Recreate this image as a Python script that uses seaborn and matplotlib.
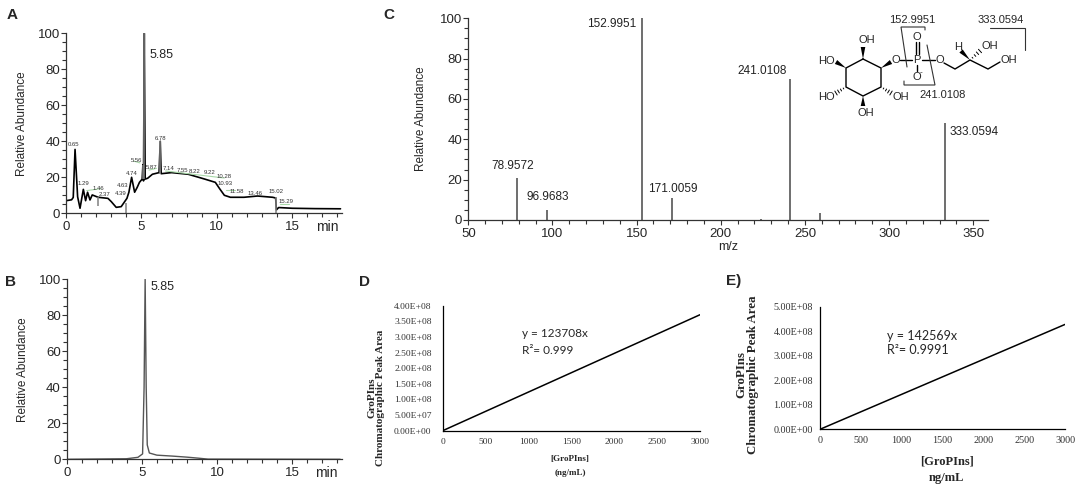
import numpy as np
import matplotlib
matplotlib.use("Agg")
import matplotlib.pyplot as plt
import seaborn as sns
from matplotlib.ticker import MultipleLocator, FuncFormatter

# ---- panel A: total ion chromatogram (time in min, relative abundance) ----
tic_time = [0.0, 0.37, 0.48, 0.6, 0.77, 0.93, 1.15, 1.3, 1.43, 1.59, 1.74, 2.13,
            2.78, 3.0, 3.33, 3.66, 4.04, 4.17, 4.35, 4.55, 4.72, 4.87, 5.05, 5.1,
            5.14, 5.19, 5.25, 5.42, 5.73, 6.17, 6.25, 6.31, 7.0, 8.1, 9.2, 9.9,
            10.2, 10.5, 10.9, 11.8, 12.7, 13.7, 13.9, 13.95, 14.1, 15.0, 16.5, 18.2]
tic_abund = [7, 7.5, 8.8, 35.5, 9.2, 2.8, 13.3, 7, 11.7, 7.4, 10.2, 8.9,
             8.3, 6.5, 3.3, 3.7, 8.3, 11.7, 20, 11.7, 14.4, 17.2, 19, 27,
             18, 100, 19, 19.5, 21.7, 22.6, 40, 22, 22.6, 21.7, 19, 17.2,
             13.5, 10, 8.9, 8.9, 9.6, 8.9, 8.5, 1.9, 3.2, 2.8, 2.6, 2.5]
rt_labels = ["0.65", "1.29", "1.46", "2.37", "4.39", "4.63", "4.74", "5.56", "5.87",
             "6.78", "7.14", "7.55", "8.22", "9.22", "10.28", "10.93", "11.58",
             "13.46", "15.02", "15.29"]
rt_label_t = [0.53, 1.15, 2.14, 2.58, 3.62, 3.73, 4.35, 4.68, 5.67, 6.29, 6.82,
              7.73, 8.54, 9.49, 10.48, 10.58, 11.35, 12.52, 13.9, 14.57]
rt_label_y = [38.3, 16.5, 13.7, 10.4, 10.9, 15.2, 22, 29.4, 25.7, 41.3, 24.8,
              23.9, 23.3, 22.6, 20.7, 16.8, 11.9, 10.9, 11.9, 6.3]
# gray peak marks and green integration baselines
mark_t = [5.1, 5.19, 6.25, 2.13, 3.95, 13.93]
mark_lo = [19, 19, 22, 4, 0, 0]
mark_hi = [27, 100, 40, 9, 6, 9]
base_t0 = [1.37, 4.5, 5.5, 6.6, 10.6, 14.2]
base_t1 = [2.3, 4.9, 6.0, 10.5, 11.2, 14.8]
base_y0 = [12.6, 29, 24, 23.5, 13, 5]
base_y1 = [13.7, 28, 25, 19.6, 13, 5]

# ---- panel B: extracted ion chromatogram ----
eic_time = [0.0, 3.97, 4.74, 5.05, 5.15, 5.22, 5.29, 5.36, 5.5, 6.0, 7.0, 8.0,
            8.8, 9.4, 18.2]
eic_abund = [0, 0.3, 1.1, 3, 40, 100, 40, 8, 3.5, 2.3, 1.8, 1.2, 0.6, 0.1, 0]

# ---- panel C: MS/MS spectrum ----
ms_mz = [78.9572, 96.9683, 152.9951, 171.0059, 224.0, 241.0108, 259.0, 333.0594]
ms_int = [21, 5, 100, 11, 0.6, 70, 3.5, 48]
ms_labels = ["78.9572", "96.9683", "152.9951", "171.0059", "241.0108", "333.0594"]
ms_label_x = [76.5, 97.4, 150.0, 171.6, 224.8, 335.7]
ms_label_y = [27, 11.3, 97, 15.4, 74, 43.5]
ms_label_ha = ["center", "center", "right", "center", "center", "left"]

# ---- panels D and E: calibration lines ----
d_conc = [0, 3000]
d_area = [0, 3.711e8]
e_conc = [0, 3000]
e_area = [0, 4.277e8]

sns.set_theme(style="ticks")
plt.rcParams["font.family"] = ["Liberation Sans", "DejaVu Sans"]

W, H = 1084, 488
fig = plt.figure(figsize=(W / 100, H / 100), dpi=100)


def rect(l, t, r, b):
    return [l / W, 1 - b / H, (r - l) / W, (b - t) / H]


def style_spec(ax):
    for s in ["left", "bottom"]:
        ax.spines[s].set_color("#333333")
        ax.spines[s].set_linewidth(0.9)
    sns.despine(ax=ax)
    ax.tick_params(which="major", length=3.8, width=0.8, color="#333333",
                   labelsize=9.5, pad=2)
    ax.tick_params(axis="y", which="major", pad=0.5)
    ax.tick_params(which="minor", length=2.8, width=0.8, color="#333333")
    ax.yaxis.set_major_locator(MultipleLocator(20))
    ax.yaxis.set_minor_locator(MultipleLocator(5))
    ax.set_ylim(0, 100)


def style_chrom(ax):
    style_spec(ax)
    ax.set_xlim(0, 18.3)
    ax.xaxis.set_major_locator(MultipleLocator(5))
    ax.xaxis.set_minor_locator(MultipleLocator(1))
    ax.set_xlabel("")
    ax.set_ylabel("Relative Abundance", fontsize=8.5)
    ax.yaxis.set_label_coords(-0.138, 0.5)
    ax.text(17.3, -0.075, "min", transform=ax.get_xaxis_transform(),
            ha="center", va="center", fontsize=10)


# A
axA = fig.add_axes(rect(66, 33.3, 342, 213.3))
sns.lineplot(x=tic_time, y=tic_abund, ax=axA, color="black", lw=1.2,
             estimator=None, sort=False)
axA.vlines(mark_t, mark_lo, mark_hi, color="#808080", lw=1.1)
for t0, t1, y0, y1 in zip(base_t0, base_t1, base_y0, base_y1):
    axA.plot([t0, t1], [y0, y1], color="#a8d8a8", lw=0.8)
for s, t, y in zip(rt_labels, rt_label_t, rt_label_y):
    axA.text(t, y, s, fontsize=4.3, ha="center", va="center", color="#333333")
axA.text(6.3, 87.8, "5.85", fontsize=9, ha="center", va="center")
style_chrom(axA)

# B
axB = fig.add_axes(rect(66.7, 279.3, 341.7, 459.3))
sns.lineplot(x=eic_time, y=eic_abund, ax=axB, color="#555555", lw=1.0,
             estimator=None, sort=False)
axB.text(6.4, 95.9, "5.85", fontsize=9, ha="center", va="center")
style_chrom(axB)

# C
axC = fig.add_axes(rect(468.3, 18.3, 988, 220))
axC.vlines(ms_mz, 0, ms_int, color="#555555", lw=1.2, clip_on=False)
for s, x, y, ha in zip(ms_labels, ms_label_x, ms_label_y, ms_label_ha):
    axC.text(x, y, s, fontsize=8.5, ha=ha, va="center", color="#222222")
style_spec(axC)
axC.set_xlim(50, 358.8)
axC.xaxis.set_major_locator(MultipleLocator(50))
axC.xaxis.set_minor_locator(MultipleLocator(10))
axC.set_xlabel("m/z", fontsize=9, labelpad=1)
axC.set_ylabel("Relative Abundance", fontsize=8.5)
axC.yaxis.set_label_coords(-0.08, 0.5)


def sci(v, pos):
    return "{:.2E}".format(v)


def style_cal(ax, ymax, ystep, fs, ypad):
    sns.despine(ax=ax)
    for s in ["left", "bottom"]:
        ax.spines[s].set_color("black")
        ax.spines[s].set_linewidth(0.9)
    ax.set_xlim(0, 3000)
    ax.set_ylim(0, ymax)
    ax.xaxis.set_major_locator(MultipleLocator(500))
    ax.yaxis.set_major_locator(MultipleLocator(ystep))
    ax.yaxis.set_major_formatter(FuncFormatter(sci))
    ax.tick_params(length=0, labelsize=fs, labelcolor="#333333")
    ax.tick_params(axis="x", pad=5)
    ax.tick_params(axis="y", pad=ypad)
    for lab in ax.get_xticklabels() + ax.get_yticklabels():
        lab.set_family("Liberation Serif")
    ax.set_xlabel("")
    ax.set_ylabel("")


# D
axD = fig.add_axes(rect(442.7, 305.7, 700, 430.7))
sns.lineplot(x=d_conc, y=d_area, ax=axD, color="black", lw=1.1)
style_cal(axD, 4e8, 5e7, 6.8, 8)
axD.text(0.31, 0.78, "y = 123708x", transform=axD.transAxes, family="Lato",
         fontsize=8.5, va="center")
axD.text(0.31, 0.645, "R\u00b2= 0.999", transform=axD.transAxes, family="Lato",
         fontsize=8.5, va="center")

# E
axE = fig.add_axes(rect(820, 306.7, 1065, 429.3))
sns.lineplot(x=e_conc, y=e_area, ax=axE, color="black", lw=1.1)
style_cal(axE, 5e8, 1e8, 7.3, 5)
axE.text(0.272, 0.765, "y = 142569x", transform=axE.transAxes, family="Lato",
         fontsize=9, va="center")
axE.text(0.272, 0.645, "R\u00b2= 0.9991", transform=axE.transAxes, family="Lato",
         fontsize=9, va="center")

# overlay in pixel coordinates for labels and the structure
ov = fig.add_axes([0, 0, 1, 1])
ov.set_xlim(0, W)
ov.set_ylim(H, 0)
ov.axis("off")
ov.patch.set_alpha(0)

for s, x, y in [("A", 12, 15), ("B", 11, 282), ("C", 389, 15), ("D", 365, 282),
                ("E)", 734, 281)]:
    ov.text(x, y, s, fontsize=11, fontweight="bold", ha="center", va="center")

serif = "Liberation Serif"
ov.text(376.5, 398, "GroPIns\nChromatographic Peak Area", rotation=90, family=serif,
        fontweight="bold", fontsize=8, ha="center", va="center", linespacing=0.95)
ov.text(570, 459.3, "[GroPIns]", family=serif, fontweight="bold", fontsize=6.5,
        ha="center", va="center")
ov.text(570, 473.3, "(ng/mL)", family=serif, fontweight="bold", fontsize=6.5,
        ha="center", va="center")
ov.text(747.5, 375, "GroPIns\nChromatographic Peak Area", rotation=90, family=serif,
        fontweight="bold", fontsize=9.3, ha="center", va="center", linespacing=0.95)
ov.text(946.7, 461.7, "[GroPIns]", family=serif, fontweight="bold", fontsize=9,
        ha="center", va="center")
ov.text(946.7, 478.3, "ng/mL", family=serif, fontweight="bold", fontsize=9,
        ha="center", va="center")


def wedge(a, b, w=2.3):
    a = np.array(a, float)
    b = np.array(b, float)
    d = b - a
    n = np.array([-d[1], d[0]]) / np.hypot(*d)
    pts = np.array([a, b + n * w, b - n * w])
    ov.fill(pts[:, 0], pts[:, 1], color="black", lw=0)


def hashed(a, b, w=2.3, k=4):
    a = np.array(a, float)
    b = np.array(b, float)
    d = b - a
    n = np.array([-d[1], d[0]]) / np.hypot(*d)
    for i in range(1, k + 1):
        f = i / k
        c = a + d * f
        ov.plot([c[0] - n[0] * w * f, c[0] + n[0] * w * f],
                [c[1] - n[1] * w * f, c[1] + n[1] * w * f], color="black", lw=0.7)


def bond(pts, lw=1.0, color="black"):
    pts = np.array(pts, float)
    ov.plot(pts[:, 0], pts[:, 1], color=color, lw=lw, solid_joinstyle="miter")


# inositol ring and glycerophosphate chain
bond([(863, 59), (881, 68), (881, 87), (863, 96), (846, 87), (846, 68), (863, 59)])
wedge((863, 59), (863, 47))
wedge((846, 68), (836, 62))
wedge((881, 68), (891, 62))
hashed((846, 87), (836, 93))
hashed((881, 87), (891, 93))
wedge((863, 96), (863, 106))
bond([(900, 60), (912, 60)])
bond([(915.5, 54), (915.5, 42)])
bond([(918.5, 54), (918.5, 42)])
bond([(917, 65), (917, 71)])
bond([(922, 60), (935, 60)])
bond([(944, 63), (955, 69), (970, 60), (988, 69), (1000, 62)])
wedge((970, 60), (961, 51))
hashed((970, 60), (980, 51))

fs = 8
for s, x, y in [("OH", 867, 40), ("HO", 826, 61), ("O", 896, 60), ("HO", 826, 97),
                ("OH", 901, 97), ("OH", 866, 113), ("P", 917, 60), ("O", 917, 37),
                ("O", 917, 77), ("O", 940, 60), ("OH", 1009, 60), ("H", 958, 47),
                ("OH", 990, 46)]:
    ov.text(x, y, s, fontsize=fs, ha="center", va="center")
ov.text(921, 73, "-", fontsize=6, ha="center", va="center")

# fragment brackets
bond([(907, 67), (901, 27), (925, 27), (925, 30)], lw=0.8, color="#333333")
bond([(904, 81), (904, 85), (935, 85), (927, 45)], lw=0.8, color="#333333")
bond([(990, 28), (1025, 28), (1025, 50)], lw=0.8, color="#333333")
ov.text(912, 20, "152.9951", fontsize=fs, ha="center", va="center")
ov.text(943, 95, "241.0108", fontsize=fs, ha="center", va="center")
ov.text(1001, 20, "333.0594", fontsize=fs, ha="center", va="center")

fig.savefig("out.png", dpi=100)
